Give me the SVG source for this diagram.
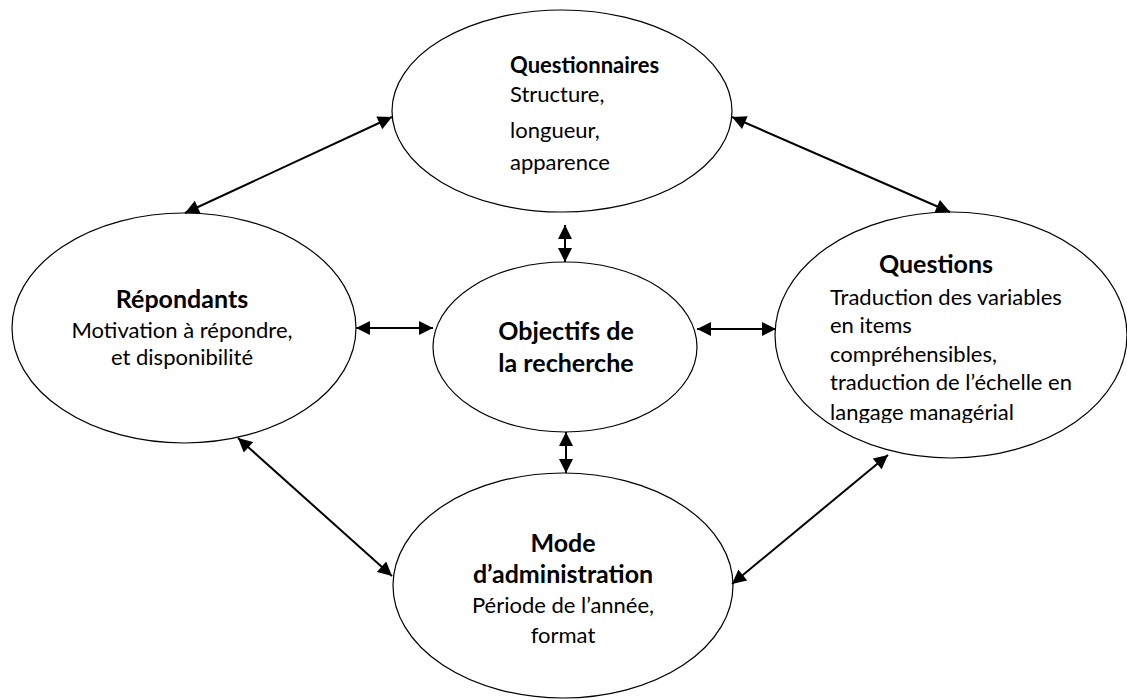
<svg xmlns="http://www.w3.org/2000/svg" width="1127" height="700" viewBox="0 0 1127 700">
<style>
.node ellipse{fill:#fff;stroke:#000;stroke-width:1.2}
text{font-family:Lato,"Liberation Sans",sans-serif;font-size:22px;fill:#000}
.b{font-weight:bold;font-size:25px}
.b.s{font-size:22px}
.c{text-anchor:middle}
.conn line{stroke:#000;stroke-width:2;marker-start:url(#ah);marker-end:url(#ah)}
</style>
<defs>
<marker id="ah" viewBox="0 0 10 10" refX="10" refY="5" markerUnits="userSpaceOnUse" markerWidth="16" markerHeight="14" orient="auto-start-reverse">
<path d="M0,0 L10,5 L0,10 z" fill="#000"/>
</marker>
<clipPath id="qclip"><rect x="760" y="200" width="367" height="223"/></clipPath>
</defs>
<rect width="1127" height="700" fill="#fff"/>
<g id="questionnaires" class="node">
<ellipse cx="562" cy="111" rx="170" ry="101"/>
<text x="510" y="73" class="b s">Questionnaires</text>
<text x="510" y="102">Structure,</text>
<text x="510" y="138">longueur,</text>
<text x="510" y="170">apparence</text>
</g>
<g id="questions" class="node">
<ellipse cx="951" cy="335" rx="176" ry="123"/>
<text x="936" y="273" class="b c">Questions</text>
<g clip-path="url(#qclip)">
<text x="830" y="305">Traduction des variables</text>
<text x="830" y="333">en items</text>
<text x="830" y="362">compréhensibles,</text>
<text x="830" y="390">traduction de l’échelle en</text>
<text x="830" y="420">langage managérial</text>
</g>
</g>
<g id="repondants" class="node">
<ellipse cx="184" cy="328" rx="172" ry="115"/>
<text x="182" y="308" class="b c">Répondants</text>
<text x="182" y="338" class="c">Motivation à répondre,</text>
<text x="182" y="365" class="c">et disponibilité</text>
</g>
<g id="objectifs" class="node">
<ellipse cx="565" cy="347" rx="132" ry="85"/>
<text x="566" y="340" class="b c">Objectifs de</text>
<text x="566" y="372" class="b c">la recherche</text>
</g>
<g id="mode" class="node">
<ellipse cx="563" cy="585.5" rx="170" ry="112.5"/>
<text x="563" y="552" class="b c">Mode</text>
<text x="563" y="583" class="b c">d’administration</text>
<text x="563" y="613" class="c">Période de l’année,</text>
<text x="563" y="643" class="c">format</text>
</g>
<g id="connectors" class="conn">
<line x1="392" y1="117" x2="185" y2="213"/>
<line x1="732" y1="117" x2="950" y2="212"/>
<line x1="356" y1="328" x2="433" y2="328"/>
<line x1="697" y1="329" x2="776" y2="329"/>
<line x1="565" y1="225" x2="565" y2="262"/>
<line x1="566" y1="432" x2="566" y2="473"/>
<line x1="238" y1="438" x2="392" y2="576"/>
<line x1="888" y1="455" x2="732" y2="584"/>
</g>
</svg>
